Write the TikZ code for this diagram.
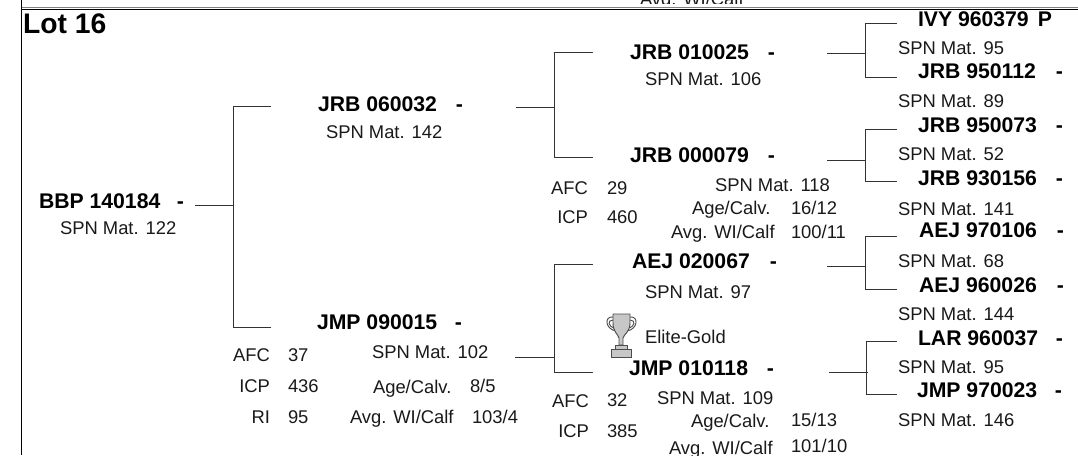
\documentclass[tikz,border=0pt]{standalone}
\usepackage{fontspec}
\setmainfont{Liberation Sans}
\newcommand{\fbig}{\fontsize{21.2pt}{24pt}\selectfont\bfseries}
\newcommand{\fname}{\fontsize{15.9pt}{18pt}\selectfont\bfseries}
\newcommand{\ftxt}{\fontsize{13.8pt}{16pt}\selectfont}
\newlength{\dashoff}\setlength{\dashoff}{103.5pt}
\tikzset{
  x=.75pt,y=-.75pt,
  lab/.style={anchor=base west,inner sep=0pt,outer sep=0pt,font=\ftxt,text=black!90},
  labr/.style={anchor=base east,inner sep=0pt,outer sep=0pt,font=\ftxt,text=black!90},
  animal/.style={anchor=base west,inner sep=0pt,outer sep=0pt,font=\fname,text=black},
  title/.style={anchor=base west,inner sep=0pt,outer sep=0pt,font=\fbig,text=black},
  link/.style={draw=black!80,line width=.75pt},
  frame/.style={draw=black,line width=.8pt},
  trophy/.style={draw=black!70,line width=.7pt,fill=black!22},
  handle/.style={draw=black!70,line width=.7pt}
}
\newcommand{\animalname}[2]{\hbox to \dashoff{#1\hss}#2}
\begin{document}
\begin{tikzpicture}
\useasboundingbox (0,0) rectangle (1078,455);
\clip (0,0) rectangle (1078,455);
% frame
\coordinate (ftl) at (21.5,0); \coordinate (fbl) at (21.5,455);
\coordinate (hla) at (21.5,7.3); \coordinate (hra) at (1078,7.3);
\coordinate (hlb) at (21.5,9.2); \coordinate (hrb) at (1078,9.2);
\draw[frame] (ftl) -- (fbl);
\draw[draw=black!50,line width=.75pt] (hla) -- (hra);
\draw[frame] (hlb) -- (hrb);
\begin{scope}
\clip (600,0) rectangle (800,3.6);
\node[lab] (clip) at (640,5) {Avg. WI/Calf};
\end{scope}
\node[title] (lot) at (23,33) {Lot 16};
% generation 1
\node[animal] (bbp) at (39,208) {\animalname{BBP 140184}{-}};
\node[lab] (bbps) at (60,234) {SPN Mat. 122};
% generation 2
\node[animal] (jrb6) at (318,111) {\animalname{JRB 060032}{-}};
\node[lab] (jrb6s) at (326,138) {SPN Mat. 142};
\node[animal] (jmp9) at (317,329) {\animalname{JMP 090015}{-}};
\node[lab] (jmp9s) at (372,358) {SPN Mat. 102};
\node[labr] (a1) at (270,361) {AFC}; \node[lab] (a1v) at (288,361) {37};
\node[labr] (i1) at (270,392) {ICP}; \node[lab] (i1v) at (288,392) {436};
\node[labr] (r1) at (270,423) {RI}; \node[lab] (r1v) at (288,423) {95};
\node[lab] (ag1) at (373,393) {Age/Calv.}; \node[lab] (ag1v) at (470,392) {8/5};
\node[lab] (wi1) at (350,423) {Avg. WI/Calf}; \node[lab] (wi1v) at (472,423) {103/4};
% generation 3
\node[animal] (jrb1) at (630,59) {\animalname{JRB 010025}{-}};
\node[lab] (jrb1s) at (645,85) {SPN Mat. 106};
\node[animal] (jrb0) at (630,162) {\animalname{JRB 000079}{-}};
\node[lab] (jrb0s) at (715,191) {SPN Mat. 118};
\node[labr] (a2) at (588,194) {AFC}; \node[lab] (a2v) at (607,194) {29};
\node[labr] (i2) at (588,223) {ICP}; \node[lab] (i2v) at (607,223) {460};
\node[lab] (ag2) at (692,214) {Age/Calv.}; \node[lab] (ag2v) at (791,214) {16/12};
\node[lab] (wi2) at (671,238) {Avg. WI/Calf}; \node[lab] (wi2v) at (791,238) {100/11};
\node[animal] (aej2) at (632,268) {\animalname{AEJ 020067}{-}};
\node[lab] (aej2s) at (645,298) {SPN Mat. 97};
\node[lab] (elite) at (645,343) {Elite-Gold};
\node[animal] (jmp1) at (629,375) {\animalname{JMP 010118}{-}};
\node[lab] (jmp1s) at (657,404) {SPN Mat. 109};
\node[labr] (a3) at (589,407) {AFC}; \node[lab] (a3v) at (607,406) {32};
\node[labr] (i3) at (589,437) {ICP}; \node[lab] (i3v) at (607,437) {385};
\node[lab] (ag3) at (691,427) {Age/Calv.}; \node[lab] (ag3v) at (791,426) {15/13};
\node[lab] (wi3) at (669,454) {Avg. WI/Calf}; \node[lab] (wi3v) at (791,452) {101/10};
% generation 4
\node[animal] (ivy) at (918,26) {\hbox to 120pt{\hbox to 90pt{IVY 960379\hss}P\hss}};
\node[lab] (ivys) at (898,54) {SPN Mat. 95};
\node[animal] (j95a) at (918,78) {\animalname{JRB 950112}{-}};
\node[lab] (j95as) at (898,107) {SPN Mat. 89};
\node[animal] (j95b) at (918,132) {\animalname{JRB 950073}{-}};
\node[lab] (j95bs) at (898,160) {SPN Mat. 52};
\node[animal] (j93) at (918,185) {\animalname{JRB 930156}{-}};
\node[lab] (j93s) at (898,215) {SPN Mat. 141};
\node[animal] (aejb) at (919,237) {\animalname{AEJ 970106}{-}};
\node[lab] (aejbs) at (898,267) {SPN Mat. 68};
\node[animal] (aejc) at (919,292) {\animalname{AEJ 960026}{-}};
\node[lab] (aejcs) at (898,320) {SPN Mat. 144};
\node[animal] (lar) at (918,345) {\animalname{LAR 960037}{-}};
\node[lab] (lars) at (898,373) {SPN Mat. 95};
\node[animal] (jmpx) at (917,397) {\animalname{JMP 970023}{-}};
\node[lab] (jmpxs) at (898,426) {SPN Mat. 146};
% connector ends
\coordinate (s0) at (195,205); \coordinate (j0) at (233,205);
\coordinate (up0) at (271,106); \coordinate (dn0) at (271,327);
\coordinate (s1) at (516,107); \coordinate (j1) at (554,107);
\coordinate (up1) at (593,52); \coordinate (dn1) at (593,157);
\coordinate (s2) at (515,357); \coordinate (j2) at (554,357);
\coordinate (up2) at (593,264); \coordinate (dn2) at (593,372);
\coordinate (s3) at (827,53); \coordinate (j3) at (865,53);
\coordinate (up3) at (897,23); \coordinate (dn3) at (897,77);
\coordinate (s4) at (827,160); \coordinate (j4) at (865,160);
\coordinate (up4) at (897,129); \coordinate (dn4) at (897,181);
\coordinate (s5) at (827,266); \coordinate (j5) at (865,266);
\coordinate (up5) at (897,236); \coordinate (dn5) at (897,289);
\coordinate (s6) at (829,372); \coordinate (j6) at (868,372);
\coordinate (up6) at (897,341); \coordinate (dn6) at (897,394);
\foreach \i/\jx in {0/233,1/554,2/554,3/865,4/865,5/865,6/866}{
  \draw[link] (s\i) -- (j\i);
  \draw[link] (up\i) -- (\jx,0 |- up\i) -- (\jx,0 |- dn\i) -- (dn\i);
}
% trophy
\draw[handle] (613,317) .. controls (604,316) and (605,329) .. (616,331);
\draw[handle] (613,320) .. controls (607,320) and (608,327) .. (615,328);
\draw[handle] (630,317) .. controls (639,316) and (638,329) .. (627,331);
\draw[handle] (630,320) .. controls (636,320) and (635,327) .. (628,328);
\path[trophy] (613,314) -- (630,314) -- (630,323) .. controls (630,332) and (624,334) .. (623,338)
  -- (623,345) -- (619,345) -- (619,338) .. controls (618,334) and (613,332) .. (613,323) -- cycle;
\path[trophy] (615.5,345) rectangle (627,349.5);
\path[trophy] (611,349.5) rectangle (631,357.5);
\end{tikzpicture}
\end{document}
